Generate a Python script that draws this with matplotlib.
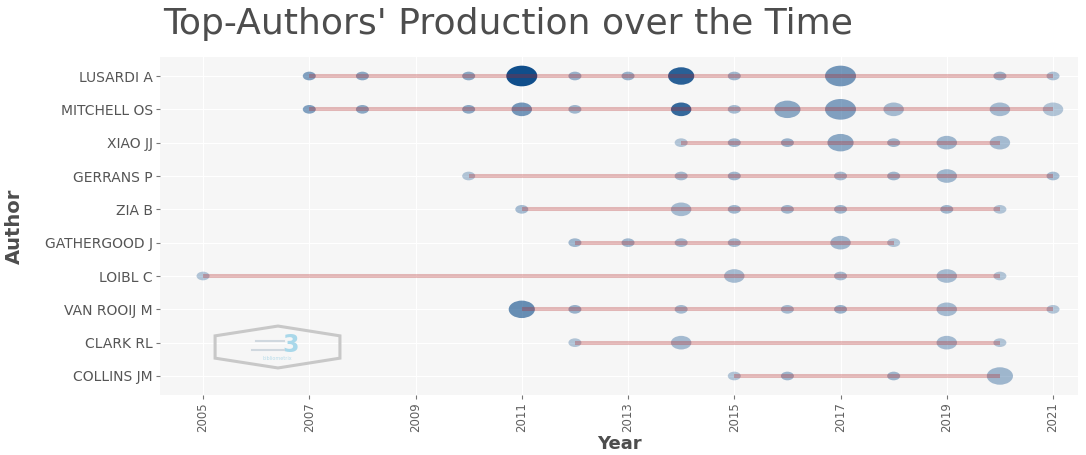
import numpy as np
import matplotlib
matplotlib.use("Agg")
import matplotlib.pyplot as plt
from matplotlib.path import Path
from matplotlib.patches import Polygon

# authors, top to bottom
authors = ["LUSARDI A", "MITCHELL OS", "XIAO JJ", "GERRANS P", "ZIA B",
           "GATHERGOOD J", "LOIBL C", "VAN ROOIJ M", "CLARK RL", "COLLINS JM"]

# publication years per author
years = [
    [2007, 2008, 2010, 2011, 2012, 2013, 2014, 2015, 2017, 2020, 2021],
    [2007, 2008, 2010, 2011, 2012, 2014, 2015, 2016, 2017, 2018, 2020, 2021],
    [2014, 2015, 2016, 2017, 2018, 2019, 2020],
    [2010, 2014, 2015, 2017, 2018, 2019, 2021],
    [2011, 2014, 2015, 2016, 2017, 2019, 2020],
    [2012, 2013, 2014, 2015, 2017, 2018],
    [2005, 2015, 2017, 2019, 2020],
    [2011, 2012, 2014, 2016, 2017, 2019, 2021],
    [2012, 2014, 2019, 2020],
    [2015, 2016, 2018, 2020],
]

# number of articles per year (point size)
freq = [
    [1, 1, 1, 4, 1, 1, 3, 1, 4, 1, 1],
    [1, 1, 1, 2, 1, 2, 1, 3, 4, 2, 2, 2],
    [1, 1, 1, 3, 1, 2, 2],
    [1, 1, 1, 1, 1, 2, 1],
    [1, 2, 1, 1, 1, 1, 1],
    [1, 1, 1, 1, 2, 1],
    [1, 2, 1, 2, 1],
    [3, 1, 1, 1, 1, 2, 1],
    [1, 2, 2, 1],
    [1, 1, 1, 3],
]

# total citations per year (point opacity)
tc_year = [
    [5.0, 4.0, 4.0, 14.0, 3.0, 3.0, 12.0, 2.5, 6.0, 2.5, 1.5],
    [5.0, 4.0, 4.0, 6.0, 2.5, 11.0, 2.0, 4.0, 5.0, 2.0, 2.0, 1.0],
    [1.0, 2.5, 3.0, 4.0, 2.5, 2.5, 2.0],
    [1.0, 2.0, 2.5, 2.0, 2.5, 2.5, 2.0],
    [2.0, 2.0, 2.5, 2.5, 2.5, 2.5, 1.0],
    [2.5, 2.5, 2.0, 2.0, 2.5, 1.0],
    [1.0, 2.0, 2.0, 2.0, 1.0],
    [7.0, 3.0, 2.0, 2.0, 3.0, 2.0, 1.0],
    [1.0, 2.0, 2.0, 1.0],
    [1.0, 2.5, 2.5, 2.5],
]

year_ticks = list(range(2005, 2022, 2))

point_color = "#104E8B"
line_color = "#B22222"
text_color = "#4d4d4d"

# horizontally stretched ellipse marker (the original image is squashed)
circle = Path.unit_circle()
ellipse = Path(circle.vertices * np.array([1.5, 1.0]), circle.codes)

fig = plt.figure(figsize=(10.86, 4.55), dpi=100)
ax = fig.add_axes([160 / 1086, 1 - 395 / 455, 918 / 1086, 338 / 455])
ax.set_facecolor("#f6f6f6")
for s in ax.spines.values():
    s.set_visible(False)

all_f = np.concatenate([np.array(f, float) for f in freq])
all_tc = np.concatenate([np.array(t, float) for t in tc_year])
fmin, fmax = all_f.min(), all_f.max()
tmin, tmax = all_tc.min(), all_tc.max()

for i, name in enumerate(authors):
    yr = np.array(years[i])
    f = np.array(freq[i], float)
    tc = np.array(tc_year[i], float)
    # size: width in px, scaled on sqrt like ggplot's area scale
    width_px = 13 + (np.sqrt(f) - np.sqrt(fmin)) / (np.sqrt(fmax) - np.sqrt(fmin)) * 18
    sizes = (width_px * 0.72) ** 2
    alphas = 0.3 + (tc - tmin) / (tmax - tmin) * 0.7
    rgba = np.tile(matplotlib.colors.to_rgba(point_color), (len(yr), 1))
    rgba[:, 3] = alphas
    ax.scatter(yr, [i] * len(yr), s=sizes, c=rgba, marker=ellipse,
               linewidths=0, zorder=2)
    ax.plot([yr.min(), yr.max()], [i, i], color=line_color, alpha=0.3,
            lw=2.9, solid_capstyle="butt", zorder=3)

ax.set_xlim(2004.19, 2021.47)
ax.set_ylim(9.57, -0.57)
ax.set_xticks(year_ticks)
ax.set_xticklabels([str(y) for y in year_ticks], rotation=90, fontsize=8.5,
                   color="#606060")
ax.set_yticks(range(len(authors)))
ax.set_yticklabels(authors, fontsize=10, color="#555555")
ax.tick_params(axis="both", length=3, width=0.8, color="#777777", pad=2)
ax.grid(True, color="white", lw=0.8, zorder=0)
ax.set_axisbelow(True)

ax.set_xlabel("Year", fontsize=13, fontweight="bold", color=text_color, labelpad=2)
ax.set_ylabel("Author", fontsize=14, fontweight="bold", color=text_color)
ax.yaxis.set_label_coords(-0.148, 0.5)

fig.text(163 / 1086, 1 - 34 / 455, "Top-Authors' Production over the Time",
         fontsize=26, color=text_color, ha="left", va="baseline")

# bibliometrix watermark
hx = [0.060, 0.1285, 0.196, 0.196, 0.1285, 0.060]
hy = [0.175, 0.204, 0.175, 0.109, 0.080, 0.109]
ax.add_patch(Polygon(list(zip(hx, hy)), closed=True, fill=False,
                     edgecolor="#c8c8c8", lw=2.2, transform=ax.transAxes, zorder=1))
ax.text(0.142, 0.148, "3", transform=ax.transAxes, fontsize=17, fontweight="bold",
        color="#a9d8ea", ha="center", va="center", zorder=1)
ax.plot([0.105, 0.135], [0.160, 0.160], color="#d0d8df", lw=1.5,
        transform=ax.transAxes, zorder=1)
ax.plot([0.100, 0.135], [0.133, 0.133], color="#d0d8df", lw=1.5,
        transform=ax.transAxes, zorder=1)
ax.text(0.128, 0.108, "bibliometrix", transform=ax.transAxes, fontsize=3.5,
        color="#b8dcea", ha="center", va="center", zorder=1)

fig.savefig("out.png", dpi=100, facecolor="white")
